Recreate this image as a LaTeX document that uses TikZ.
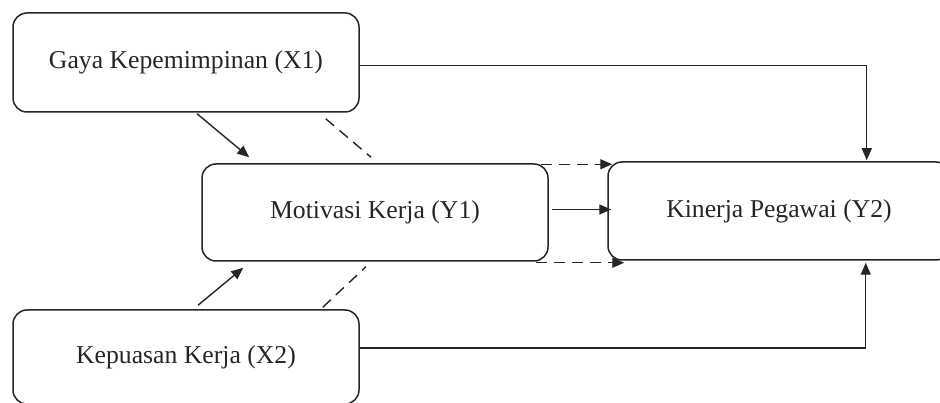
\documentclass[tikz,border=0pt]{standalone}
\usepackage{fontspec}
\setmainfont{Liberation Serif}
\usetikzlibrary{arrows.meta,calc}
\begin{document}
\begin{tikzpicture}[x=1pt,y=-1pt,
  box/.style={draw=black!85,line width=1.5pt,rounded corners=14pt,
    inner sep=0pt,font=\fontsize{25.7}{30}\selectfont,text=black!85},
  conn/.style={draw=black!85,line width=1.4pt},
  arr/.style={conn,-{Triangle[length=12pt,width=10pt]}},
  dsh/.style={conn,dash pattern=on 11pt off 7pt}]
\clip (0,0) rectangle (940,403);
\fill[white] (0,0) rectangle (940,403);
\node[box,minimum width=346pt,minimum height=99pt] (X1) at (186,62.5) {Gaya Kepemimpinan (X1)};
\node[box,minimum width=346pt,minimum height=97pt] (Y1) at (375,212.5) {Motivasi Kerja (Y1)};
\node[box,minimum width=342pt,minimum height=98pt] (Y2) at (779,211) {Kinerja Pegawai (Y2)};
\node[box,minimum width=346pt,minimum height=94pt] (X2) at (186,357) {Kepuasan Kerja (X2)};
% X1 -> Y1
\draw[arr] ($(X1.south)+(11,1)$) -- ($(Y1.north west)+(48,-6)$);
\draw[dsh] ($(X1.south east)+(-34,6)$) -- ($(Y1.north)+(-4,-6)$);
% X2 -> Y1
\draw[arr] ($(X2.north)+(12,-4)$) -- ($(Y1.south west)+(42,6)$);
\draw[dsh] ($(X2.north east)+(-37,-2)$) -- ($(Y1.south)+(-9,5)$);
% Y1 -> Y2
\draw[arr,dash pattern=on 11pt off 7pt] ($(Y1.north east)+(-8,1)$) -- ($(Y2.north west)+(5,3)$);
\draw[arr] ($(Y1.east)+(3,-3)$) -- ($(Y2.west)+(4,-1.5)$);
\draw[arr,dash pattern=on 11pt off 7pt] ($(Y1.south east)+(-13,1)$) -- ($(Y2.south west)+(17,2)$);
% X1 -> Y2, X2 -> Y2
\draw[arr] ($(X1.east)+(0,3)$) -| ($(Y2.north east)+(-84,-1)$);
\draw[arr] ($(X2.east)+(0,-9)$) -| ($(Y2.south east)+(-85,2)$);
\end{tikzpicture}
\end{document}
